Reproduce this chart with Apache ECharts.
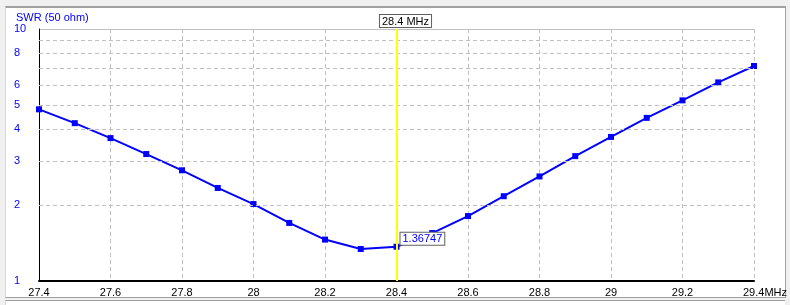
<!DOCTYPE html>
<html><head><meta charset="utf-8">
<script src="https://cdn.jsdelivr.net/npm/echarts@6/dist/echarts.min.js"></script>
<style>
html,body{margin:0;padding:0;background:#f0f0f0;width:790px;height:305px;overflow:hidden;}
#panel{position:absolute;left:5px;top:6px;width:779px;height:289px;background:#fff;border-top:2px solid #a0a0a0;border-left:1px solid #d8d8d8;border-right:1px solid #a0a0a0;border-bottom:1px solid #a0a0a0;}
#panel2{position:absolute;left:5px;top:300px;width:779px;height:20px;background:#fff;border-top:1px solid #a0a0a0;border-left:1px solid #d8d8d8;}
#chart{position:absolute;left:0;top:0;width:790px;height:305px;}
</style></head>
<body>
<div id="panel"></div><div id="panel2"></div>
<div id="chart"></div>
<script>
var freqs = [27.4,27.5,27.6,27.7,27.8,27.9,28.0,28.1,28.2,28.3,28.4,28.5,28.6,28.7,28.8,28.9,29.0,29.1,29.2,29.3,29.4];
var swr   = [4.80,4.23,3.69,3.19,2.75,2.34,2.02,1.70,1.46,1.34,1.36747,1.55,1.81,2.17,2.60,3.13,3.73,4.44,5.21,6.14,7.13];
var yLabelValues = [1,2,3,4,5,6,8,10];
var yGridValues = [2,3,4,5,6,7,8,9];
var cursorFreq = 28.4;
var cursorSwr = 1.36747;
var titleText = 'SWR (50 ohm)';

var font = '"Liberation Sans", Arial, sans-serif';
var data = freqs.map(function(f,i){return [f, swr[i]];});
var chart = echarts.init(document.getElementById('chart'), null, {renderer:'canvas'});
chart.setOption({
  animation:false,
  title:{text:titleText,left:11,top:7,textStyle:{color:'#0000ff',fontSize:11,fontWeight:'normal',fontFamily:font}},
  grid:{left:39,top:29,width:715,height:252,containLabel:false},
  xAxis:{type:'value',min:27.4,max:29.4,interval:0.2,
    axisLine:{show:true,onZero:false,lineStyle:{color:'#000',width:2}},
    axisTick:{show:false},
    splitLine:{show:true,lineStyle:{color:'#c0c0c0',type:[4,3],width:1}},
    axisLabel:{color:'#000',fontSize:11,fontFamily:font,margin:6,
      formatter:function(v){var s=(Math.round(v*10)/10).toString(); return Math.abs(v-29.4)<1e-6 ? '{pad|}'+s+'MHz' : s;},
      rich:{pad:{width:22}}}
  },
  yAxis:{type:'log',logBase:10,min:1,max:10,
    axisLine:{show:true,lineStyle:{color:'#000',width:1}},
    axisTick:{show:false},
    splitLine:{show:true,lineStyle:{color:'#c0c0c0',width:1}},
    axisLabel:{color:'#0000ff',fontSize:11,fontFamily:font,align:'left',margin:25,customValues:yLabelValues,
      formatter:function(v){return String(Math.round(v));}}
  },
  series:[
    {type:'line',data:data,symbol:'rect',symbolSize:6,showAllSymbol:true,
     lineStyle:{color:'#0000ff',width:2},itemStyle:{color:'#0000ff'},z:3,
     markLine:{silent:true,symbol:'none',animation:false,
       lineStyle:{color:'#c0c0c0',type:[4,3],width:1},label:{show:false},
       data:yGridValues.map(function(v){return {yAxis:v};})
     }},
    {type:'line',data:[],z:4,
     markLine:{silent:true,symbol:'none',animation:false,
       lineStyle:{color:'#ffff00',type:'solid',width:2},
       label:{show:true,position:'end',formatter:cursorFreq+' MHz',color:'#000',fontSize:11,fontFamily:font,
         backgroundColor:'#fff',borderColor:'#606060',borderWidth:1,padding:[1,2,0,2],distance:2,offset:[9,0]},
       data:[{xAxis:cursorFreq}]
     },
     markPoint:{silent:true,symbol:'rect',symbolSize:0,animation:false,
       label:{show:true,position:'right',distance:4,offset:[0,-8],formatter:String(cursorSwr),color:'#0000ff',fontSize:11,fontFamily:font,
         backgroundColor:'#fff',borderColor:'#606060',borderWidth:1,padding:[1,2,0,2]},
       data:[{coord:[cursorFreq,cursorSwr]}]
     }}
  ]
});
</script>
</body></html>
